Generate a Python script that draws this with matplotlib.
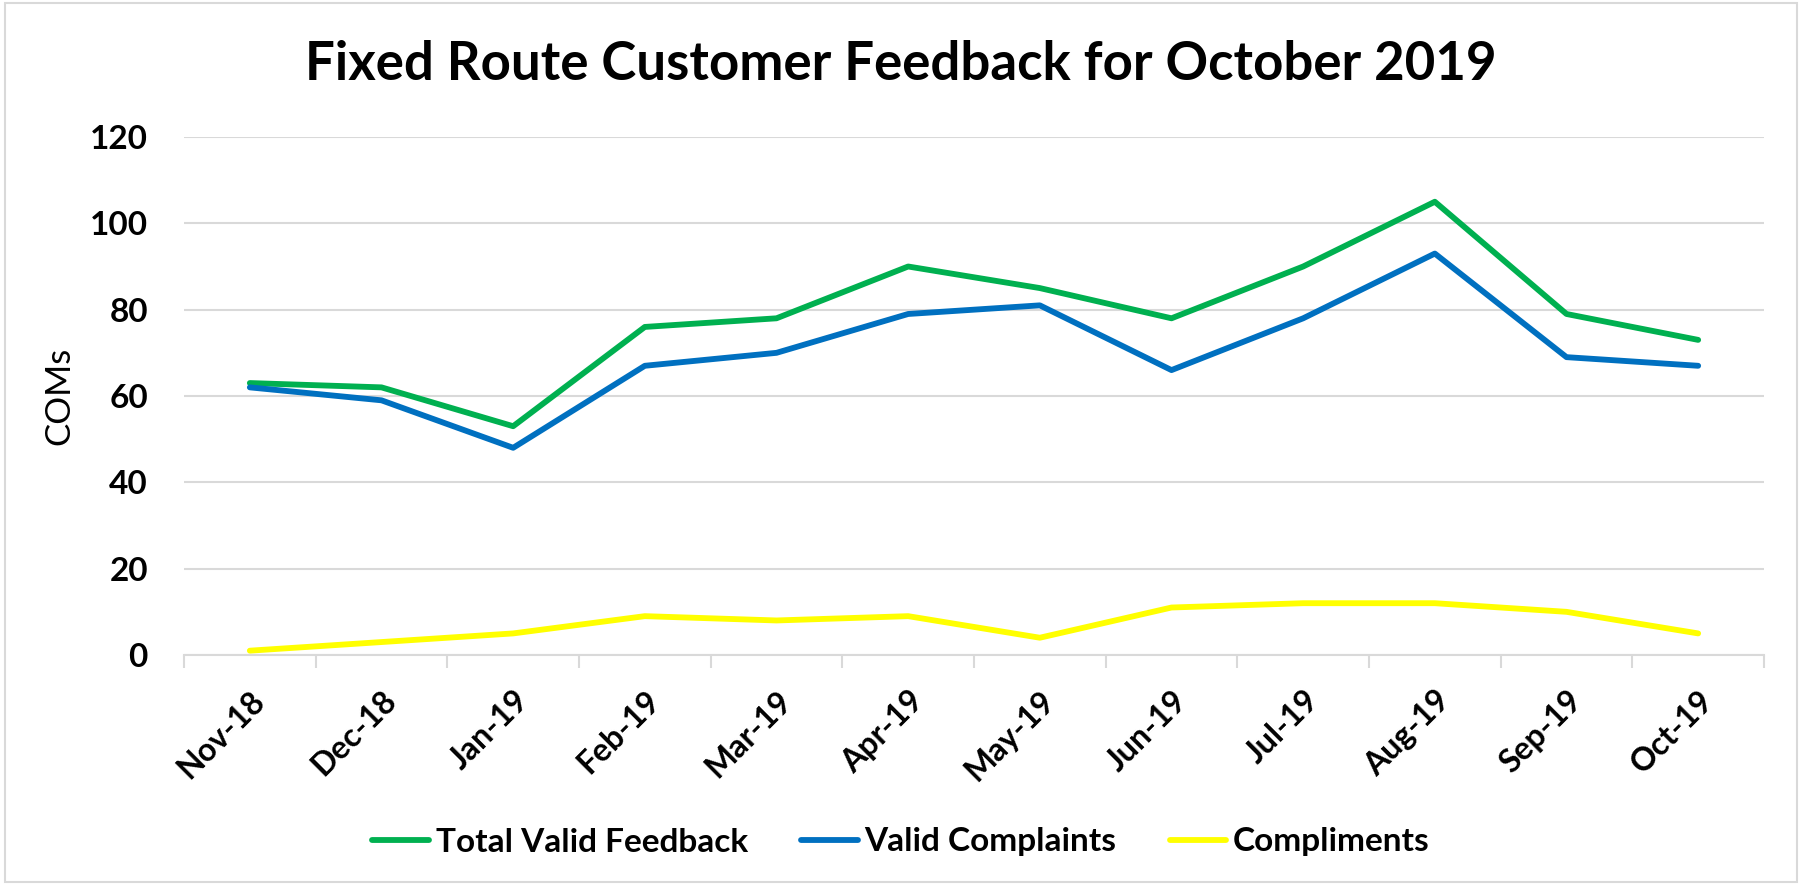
import matplotlib
matplotlib.use("Agg")
import matplotlib.pyplot as plt
from matplotlib.patches import Rectangle

months = ["Nov-18", "Dec-18", "Jan-19", "Feb-19", "Mar-19", "Apr-19",
          "May-19", "Jun-19", "Jul-19", "Aug-19", "Sep-19", "Oct-19"]
total_valid = [63, 62, 53, 76, 78, 90, 85, 78, 90, 105, 79, 73]
valid_complaints = [62, 59, 48, 67, 70, 79, 81, 66, 78, 93, 69, 67]
compliments = [1, 3, 5, 9, 8, 9, 4, 11, 12, 12, 10, 5]

series = [
    ("Total Valid Feedback", total_valid, "#00B050"),
    ("Valid Complaints", valid_complaints, "#0070C0"),
    ("Compliments", compliments, "#FFFF00"),
]

plt.rcParams['font.family'] = ['Lato', 'DejaVu Sans']

W, H = 1802, 885
fig = plt.figure(figsize=(W / 100, H / 100), dpi=100)
ax = fig.add_axes([184 / W, 1 - 655 / H, (1764 - 184) / W, (655 - 137) / H])

x = list(range(len(months)))
for name, vals, col in series:
    ax.plot(x, vals, color=col, lw=4.2, label=name, solid_capstyle='round')

ax.set_xlim(-0.5, len(months) - 0.5)
ax.set_ylim(0, 120)
ax.set_yticks(range(0, 121, 20))
ax.set_yticklabels([str(v) for v in range(0, 121, 20)], fontsize=24, fontweight='bold')
ax.tick_params(axis='y', length=0, pad=26)
ax.yaxis.grid(True, color="#D9D9D9", lw=1.5)
ax.set_axisbelow(True)

# category labels centred, tick marks between categories
ax.set_xticks(x)
ax.set_xticklabels(months, rotation=45, ha='right', rotation_mode='anchor',
                   fontsize=23, fontweight='bold')
ax.set_xticks([i - 0.5 for i in range(len(months) + 1)], minor=True)
ax.tick_params(axis='x', which='major', length=0, pad=22)
ax.tick_params(axis='x', which='minor', length=9, color="#D9D9D9", width=1.5)

for s in ['top', 'right', 'left']:
    ax.spines[s].set_visible(False)
ax.spines['bottom'].set_color("#D9D9D9")
ax.spines['bottom'].set_linewidth(1.5)

ax.set_ylabel("COMs", fontsize=25)
ax.yaxis.set_label_coords(-0.069, 0.5)

fig.text(0.5, 1 - 65 / H, "Fixed Route Customer Feedback for October 2019",
         ha='center', va='center', fontsize=38, fontweight='bold')

fig.legend(loc='center', bbox_to_anchor=(0.5, 1 - 842 / H), ncol=3,
           frameon=False, prop={'size': 24, 'weight': 'bold'},
           handlelength=1.7, columnspacing=1.6, handletextpad=0.2)

fig.patches.append(Rectangle((0.003, 0.003), 0.994, 0.994, transform=fig.transFigure,
                             fill=False, edgecolor="#D9D9D9", lw=1.5))

fig.savefig("out.png", dpi=100)
